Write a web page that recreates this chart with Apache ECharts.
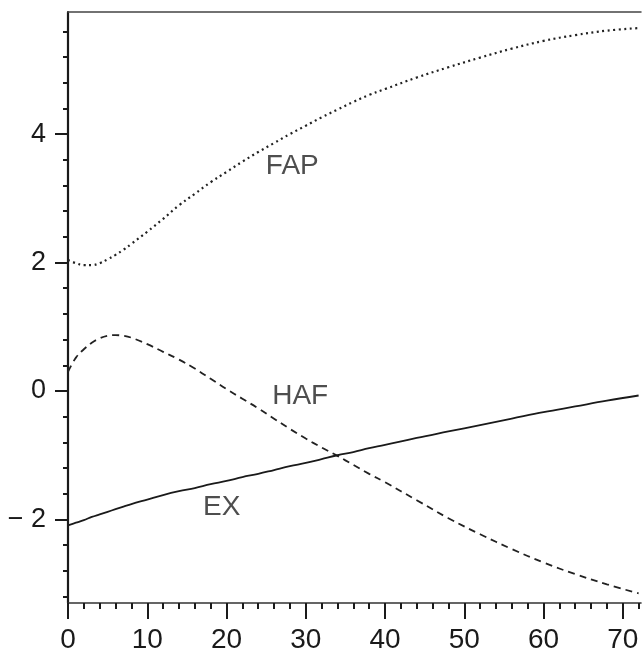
<!DOCTYPE html>
<html>
<head>
<meta charset="utf-8">
<script src="https://cdn.jsdelivr.net/npm/echarts@6/dist/echarts.min.js"></script>
<style>
html,body{margin:0;padding:0;background:#fff;}
#chart{width:642px;height:654px;}
</style>
</head>
<body>
<div id="chart"></div>
<script>
// ---- data ----
var xValues = [0,1,2,3,4,5,6,7,8,10,12,14,16,18,20,22,24,26,28,30,32,34,36,38,40,44,48,52,56,60,64,68,72];
var fapValues = [2.04,1.99,1.96,1.96,1.99,2.05,2.12,2.20,2.29,2.48,2.68,2.89,3.07,3.25,3.41,3.57,3.72,3.86,4.00,4.13,4.26,4.38,4.50,4.61,4.70,4.88,5.04,5.19,5.33,5.45,5.54,5.61,5.65];
var hafValues = [0.30,0.52,0.65,0.75,0.82,0.86,0.87,0.86,0.83,0.73,0.61,0.49,0.35,0.19,0.03,-0.12,-0.27,-0.43,-0.59,-0.74,-0.88,-1.01,-1.15,-1.29,-1.42,-1.70,-1.98,-2.23,-2.46,-2.67,-2.85,-3.01,-3.15];
var exValues = [-2.09,-2.05,-2.01,-1.96,-1.92,-1.88,-1.84,-1.80,-1.76,-1.69,-1.62,-1.56,-1.51,-1.45,-1.40,-1.34,-1.29,-1.23,-1.17,-1.12,-1.06,-1.00,-0.95,-0.89,-0.84,-0.73,-0.63,-0.53,-0.43,-0.33,-0.24,-0.15,-0.07];
var xMajorTicks = [0,10,20,30,40,50,60,70];
var xMinorTicks = [2,4,6,8,12,14,16,18,22,24,26,28,32,34,36,38,42,44,46,48,52,54,56,58,62,64,66,68,72];
var yMajorTicks = [-2,0,2,4];
var yMinorTicks = [-3.2,-2.8,-2.4,-1.6,-1.2,-0.8,-0.4,0.4,0.8,1.2,1.6,2.4,2.8,3.2,3.6,4.4,4.8,5.2,5.6];
var curveLabels = [
  {name:'FAP', value:[28.3, 3.50]},
  {name:'HAF', value:[29.3, -0.08]},
  {name:'EX', value:[19.4, -1.81]}
];

function pairs(ys){ return xValues.map(function(x,i){ return [x, ys[i]]; }); }

var FONT = 'Liberation Sans, Arial, Helvetica, sans-serif';
var INK = '#1a1a1a';

var chart = echarts.init(document.getElementById('chart'), null, {renderer:'canvas'});
chart.setOption({
  animation:false,
  backgroundColor:'#ffffff',
  grid:{left:68, top:12, width:573, height:593, containLabel:false},
  xAxis:[
    {type:'value', min:0, max:72.3, position:'bottom',
     axisLine:{show:true, onZero:false, lineStyle:{color:'#333', width:1.6}},
     axisTick:{show:true, customValues:xMajorTicks, length:16, lineStyle:{color:INK, width:2}},
     axisLabel:{show:true, customValues:xMajorTicks, fontSize:28, fontFamily:FONT, color:INK, margin:23},
     splitLine:{show:false}},
    {type:'value', min:0, max:72.3, position:'bottom',
     axisLine:{show:false, onZero:false},
     axisTick:{show:true, customValues:xMinorTicks, length:6, lineStyle:{color:INK, width:2}},
     axisLabel:{show:false}, splitLine:{show:false}},
    {type:'value', min:0, max:72.3, position:'top',
     axisLine:{show:true, onZero:false, lineStyle:{color:'#444', width:1.5}},
     axisTick:{show:false}, axisLabel:{show:false}, splitLine:{show:false}}
  ],
  yAxis:[
    {type:'value', min:-3.3, max:5.9, position:'left',
     axisLine:{show:true, onZero:false, lineStyle:{color:INK, width:2.2}},
     axisTick:{show:true, customValues:yMajorTicks, length:13, lineStyle:{color:INK, width:2}},
     axisLabel:{show:true, customValues:yMajorTicks, fontSize:27, fontFamily:FONT, color:INK, margin:22,
       formatter:function(v){ return v < 0 ? '\u2212 ' + Math.abs(v) : String(v); }},
     splitLine:{show:false}},
    {type:'value', min:-3.3, max:5.9, position:'left',
     axisLine:{show:false, onZero:false},
     axisTick:{show:true, customValues:yMinorTicks, length:5, lineStyle:{color:INK, width:2}},
     axisLabel:{show:false}, splitLine:{show:false}}
  ],
  series:[
    {name:'FAP', type:'line', xAxisIndex:0, yAxisIndex:0, data:pairs(fapValues), smooth:0.4,
     showSymbol:false, lineStyle:{color:'#222', width:2.2, type:[2,3.5]}},
    {name:'HAF', type:'line', xAxisIndex:0, yAxisIndex:0, data:pairs(hafValues), smooth:0.4,
     showSymbol:false, lineStyle:{color:'#222', width:1.8, type:[7,5]}},
    {name:'EX', type:'line', xAxisIndex:0, yAxisIndex:0, data:pairs(exValues), smooth:0.4,
     showSymbol:false, lineStyle:{color:'#1a1a1a', width:1.8, type:'solid'}},
    {name:'labels', type:'scatter', xAxisIndex:0, yAxisIndex:0, data:curveLabels,
     symbolSize:2, itemStyle:{color:'rgba(0,0,0,0)'}, silent:true, z:5,
     label:{show:true, position:'inside', formatter:'{b}', fontSize:28, fontFamily:FONT, color:'#222'}}
  ]
});
</script>
</body>
</html>
